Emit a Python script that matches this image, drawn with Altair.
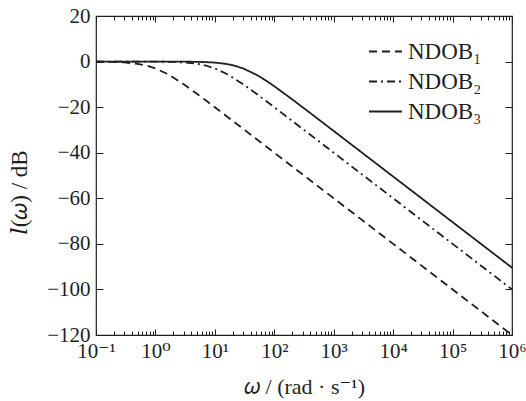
import altair as alt
import pandas as pd

# Magnitude responses (dB) of the three disturbance-observer filters
freq = [0.1, 0.2, 0.3, 0.5, 0.7, 1, 1.5, 2, 3, 5, 7, 10, 15, 20, 30, 50, 70,
        100, 200, 500, 1000, 1e4, 1e5, 1e6]
ndob1 = [-0.04, -0.17, -0.37, -0.97, -1.73, -3.01, -5.12, -6.99, -10.0, -14.15,
         -16.99, -20.04, -23.54, -26.03, -29.55, -33.98, -36.90, -40.0, -46.02,
         -53.98, -60.0, -80.0, -100.0, -120.0]
ndob2 = [0.0, 0.0, 0.0, -0.01, -0.02, -0.04, -0.10, -0.17, -0.37, -0.97, -1.73,
         -3.01, -5.12, -6.99, -10.0, -14.15, -16.99, -20.04, -26.03, -33.98,
         -40.0, -60.0, -80.0, -100.0]
ndob3 = [0.0, 0.0, 0.0, 0.0, 0.0, -0.005, -0.01, -0.02, -0.04, -0.12, -0.23,
         -0.46, -0.97, -1.60, -3.01, -5.77, -8.09, -10.83, -16.57, -24.45,
         -30.46, -50.46, -70.46, -90.46]
series_names = ["NDOB₁", "NDOB₂", "NDOB₃"]
series_dash = [[8, 5], [8, 4, 2, 4], [1, 0]]

x_tick_values = [0.1, 1, 10, 100, 1e3, 1e4, 1e5, 1e6]
x_tick_labels = ["10⁻¹", "10⁰", "10¹", "10²", "10³", "10⁴", "10⁵", "10⁶"]
x_minor_values = [m * 10.0 ** k for k in range(-1, 6) for m in range(2, 10)]
y_tick_values = [-120, -100, -80, -60, -40, -20, 0, 20]

rows = []
for name, vals in zip(series_names, [ndob1, ndob2, ndob3]):
    for w, v in zip(freq, vals):
        rows.append({"w": w, "db": v, "series": name})
df = pd.DataFrame(rows)

FONT = "Liberation Serif, DejaVu Serif, serif"
INK = "#1f1f1f"

xscale = alt.Scale(type="log", domain=[0.1, 1e6], nice=False)
yscale = alt.Scale(domain=[-120, 20], nice=False)

label_expr = "[" + ",".join(f"'{s}'" for s in x_tick_labels) + "][round(log(datum.value)/LN10) + 1]"

main_x = alt.Axis(values=x_tick_values, labelExpr=label_expr, ticks=False, domain=False,
                  grid=False, labelFont=FONT, labelFontSize=21, labelColor=INK,
                  labelPadding=5, labelFlush=False, labelOverlap=False,
                  title="𝜔 / (rad · s⁻¹)", titleFont=FONT, titleFontSize=22,
                  titleFontWeight="normal", titleColor=INK, titleY=58,
                  titleBaseline="alphabetic")
main_y = alt.Axis(values=y_tick_values, format="d", ticks=False, domain=False, grid=False,
                  labelFont=FONT, labelFontSize=21, labelColor=INK, labelPadding=6,
                  title="𝑙(𝜔) / dB", titleFont=FONT, titleFontSize=23,
                  titleFontWeight="normal", titleColor=INK, titleAngle=270,
                  titleX=-70, titleY=176, titleAlign="center", titleBaseline="alphabetic")


def tick_axis(orient, values, size):
    return alt.Axis(orient=orient, values=values, labels=False, domain=False, grid=False,
                    ticks=True, tickSize=size, offset=-size, tickColor=INK, tickWidth=1,
                    title=None)


lines = alt.Chart(df).mark_line(strokeWidth=1.8, color=INK).encode(
    x=alt.X("w:Q", scale=xscale, axis=main_x),
    y=alt.Y("db:Q", scale=yscale, axis=main_y),
    strokeDash=alt.StrokeDash(
        "series:N",
        scale=alt.Scale(domain=series_names, range=series_dash),
        legend=alt.Legend(orient="none", legendX=272, legendY=18, title=None,
                          symbolType="stroke", symbolSize=1089, symbolStrokeWidth=1.8,
                          symbolStrokeColor=INK, labelFont=FONT, labelFontSize=23,
                          labelColor=INK, labelOffset=5, rowPadding=-3, padding=0),
    ),
)

ghost = alt.Chart(df).mark_point(opacity=0)

ticks_bl = ghost.encode(
    x=alt.X("w:Q", scale=xscale, axis=tick_axis("bottom", x_tick_values, 6)),
    y=alt.Y("db:Q", scale=yscale, axis=tick_axis("left", y_tick_values, 7)),
)
ticks_tr = ghost.encode(
    x=alt.X("w:Q", scale=xscale, axis=tick_axis("top", x_tick_values, 6)),
    y=alt.Y("db:Q", scale=yscale, axis=tick_axis("right", y_tick_values, 7)),
)
minor_b = ghost.encode(
    x=alt.X("w:Q", scale=xscale, axis=tick_axis("bottom", x_minor_values, 4)),
    y=alt.Y("db:Q", scale=yscale, axis=None),
)
minor_t = ghost.encode(
    x=alt.X("w:Q", scale=xscale, axis=tick_axis("top", x_minor_values, 4)),
    y=alt.Y("db:Q", scale=yscale, axis=None),
)

chart = alt.layer(lines, ticks_bl, ticks_tr, minor_b, minor_t).resolve_axis(
    x="independent", y="independent"
).properties(
    width=416, height=319,
    autosize=alt.AutoSizeParams(type="none"),
    padding={"left": 96, "top": 16, "right": 14, "bottom": 66},
    background="white",
).configure_view(stroke=INK, strokeWidth=1.2)

chart.save("out.html", embed_options={"renderer": "svg", "actions": False})
